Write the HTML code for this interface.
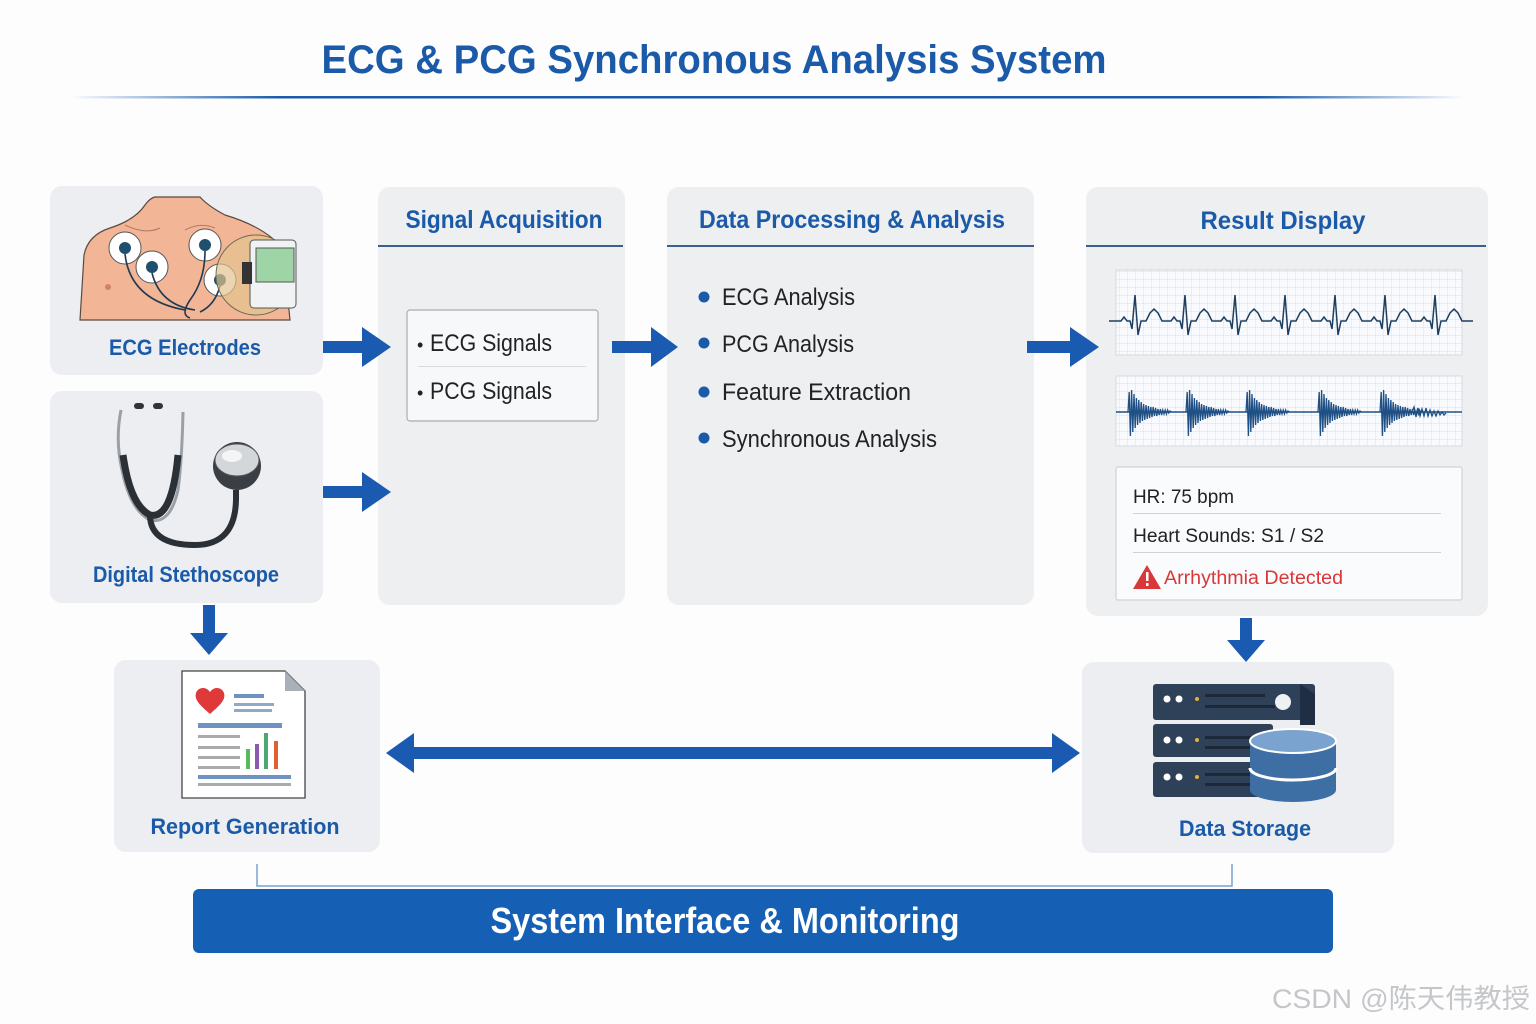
<!DOCTYPE html>
<html><head><meta charset="utf-8"><style>
html,body{margin:0;padding:0;background:#fdfdfe;}
svg{display:block;}
text{font-family:"Liberation Sans","Noto Sans CJK SC",sans-serif;}
</style></head><body>
<svg width="1536" height="1024" viewBox="0 0 1536 1024" xmlns="http://www.w3.org/2000/svg">
<defs>
<linearGradient id="tl" x1="0" x2="1" y1="0" y2="0">
<stop offset="0" stop-color="#1a5aa8" stop-opacity="0"/><stop offset="0.15" stop-color="#1a5aa8"/><stop offset="0.85" stop-color="#1a5aa8"/><stop offset="1" stop-color="#1a5aa8" stop-opacity="0"/></linearGradient>
<pattern id="grid" width="8" height="8" patternUnits="userSpaceOnUse"><path d="M8 0V8H0" fill="none" stroke="#c9d8ea" stroke-width="0.7"/></pattern>
<path id="burst" d="M0 0 L1.2 -20 L2.4 24 L3.6 -22 L4.8 20 L6 -18 L7.2 16 L8.4 -14 L9.6 13 L10.8 -12 L12 11 L13.2 -10 L14.4 9 L15.6 -8 L16.8 8 L18 -7 L19.2 7 L20.4 -6 L21.6 6 L22.8 -5 L24 5 L25.2 -5 L26.4 4 L27.6 -4 L28.8 4 L30 -3 L31.2 3 L32.4 -3 L33.6 3 L34.8 -2 L36 2 L37.2 -2 L38.4 2 L39.6 -2 L40.8 1 L42 -1 L43.2 0" fill="none" stroke="#1e4f85" stroke-width="1.3"/>
</defs>

<!-- title -->
<text x="714" y="73" text-anchor="middle" font-size="40" font-weight="bold" fill="#1a5aa8" textLength="785" lengthAdjust="spacingAndGlyphs">ECG &amp; PCG Synchronous Analysis System</text>
<rect x="70" y="96" width="1395" height="2.5" fill="url(#tl)"/>

<!-- cards -->
<rect x="50" y="186" width="273" height="189" rx="12" fill="#eceef1"/>
<rect x="50" y="391" width="273" height="212" rx="12" fill="#eceef1"/>
<rect x="378" y="187" width="247" height="418" rx="12" fill="#eeeff1"/>
<rect x="667" y="187" width="367" height="418" rx="12" fill="#eeeff1"/>
<rect x="1086" y="187" width="402" height="429" rx="12" fill="#eeeff1"/>
<rect x="114" y="660" width="266" height="192" rx="12" fill="#eceef1"/>
<rect x="1082" y="662" width="312" height="191" rx="12" fill="#eceef1"/>

<!-- ECG electrodes illustration -->
<path d="M80 320 L84 255 Q88 235 110 228 Q135 220 145 205 Q150 198 155 197 L200 197 Q208 206 225 215 Q255 224 272 238 Q282 250 285 270 L290 320 Z" fill="#f2b596" stroke="#5a4a44" stroke-width="1.2"/>
<path d="M125 225 Q145 235 160 228 M185 230 Q200 222 215 228" stroke="#b07a66" fill="none" stroke-width="1"/>
<circle cx="125" cy="248" r="16" fill="#fff" stroke="#555" stroke-width="1"/>
<circle cx="152" cy="267" r="16" fill="#fff" stroke="#555"/>
<circle cx="205" cy="245" r="16" fill="#fff" stroke="#555"/>
<circle cx="220" cy="280" r="16" fill="#fff" stroke="#555"/>
<circle cx="125" cy="248" r="6" fill="#1f4f6e"/><circle cx="152" cy="267" r="6" fill="#1f4f6e"/><circle cx="205" cy="245" r="6" fill="#1f4f6e"/><circle cx="220" cy="280" r="6" fill="#1f4f6e"/>
<path d="M125 254 Q130 300 185 310 M152 273 Q160 305 195 310 M205 251 Q205 280 190 300 Q180 315 190 318 M220 286 Q215 305 200 312" stroke="#1f3a52" stroke-width="1.6" fill="none"/>
<circle cx="256" cy="275" r="40" fill="#e3c38e" fill-opacity="0.7" stroke="#6b6b50" stroke-width="1"/>
<rect x="250" y="240" width="46" height="68" rx="4" fill="#f1f2f3" stroke="#555"/>
<rect x="256" y="248" width="38" height="34" fill="#9fd5a6" stroke="#555"/>
<rect x="242" y="262" width="10" height="22" fill="#333"/>
<circle cx="108" cy="287" r="3" fill="#d08070"/>

<!-- stethoscope -->
<path d="M121 410 Q115 440 122 470 Q130 510 150 520 Q170 525 178 490 Q182 460 183 412" fill="none" stroke="#9aa0a6" stroke-width="3"/>
<path d="M123 455 Q130 505 150 515 Q172 520 178 455" fill="none" stroke="#2b3036" stroke-width="7"/>
<path d="M150 515 Q150 545 195 545 Q235 545 236 500 L236 490" fill="none" stroke="#2b3036" stroke-width="6"/>
<rect x="134" y="403" width="10" height="6" rx="3" fill="#333"/><rect x="153" y="403" width="10" height="6" rx="3" fill="#333"/>
<circle cx="237" cy="466" r="24" fill="#3a3f45"/>
<ellipse cx="237" cy="460" rx="22" ry="16" fill="#d4d7da" stroke="#555"/>
<ellipse cx="232" cy="456" rx="10" ry="6" fill="#f4f5f6"/>

<!-- labels -->
<text x="185" y="355" text-anchor="middle" font-size="22" font-weight="bold" fill="#1a5aa8" textLength="152" lengthAdjust="spacingAndGlyphs">ECG Electrodes</text>
<text x="186" y="582" text-anchor="middle" font-size="22" font-weight="bold" fill="#1a5aa8" textLength="186" lengthAdjust="spacingAndGlyphs">Digital Stethoscope</text>

<!-- Signal Acquisition -->
<text x="504" y="228" text-anchor="middle" font-size="25" font-weight="bold" fill="#1a5aa8" textLength="197" lengthAdjust="spacingAndGlyphs">Signal Acquisition</text>
<rect x="378" y="245" width="245" height="2" fill="#3d5f8c"/>
<rect x="407" y="310" width="191" height="111" rx="3" fill="#f7f8f9" stroke="#a8acb2" stroke-width="1.2"/>
<rect x="418" y="366" width="168" height="1" fill="#d8dadd"/>
<text x="417" y="351" font-size="24" fill="#222"><tspan font-size="18">•</tspan> <tspan textLength="122" lengthAdjust="spacingAndGlyphs">ECG Signals</tspan></text>
<text x="417" y="399" font-size="24" fill="#222"><tspan font-size="18">•</tspan> <tspan textLength="122" lengthAdjust="spacingAndGlyphs">PCG Signals</tspan></text>

<!-- Data processing -->
<text x="852" y="228" text-anchor="middle" font-size="25" font-weight="bold" fill="#1a5aa8" textLength="306" lengthAdjust="spacingAndGlyphs">Data Processing &amp; Analysis</text>
<rect x="667" y="245" width="367" height="2" fill="#3d5f8c"/>
<g font-size="24" fill="#222">
<circle cx="704" cy="297" r="5.5" fill="#1a5aa8"/><text x="722" y="305" textLength="133" lengthAdjust="spacingAndGlyphs">ECG Analysis</text>
<circle cx="704" cy="343" r="5.5" fill="#1a5aa8"/><text x="722" y="352" textLength="132" lengthAdjust="spacingAndGlyphs">PCG Analysis</text>
<circle cx="704" cy="392" r="5.5" fill="#1a5aa8"/><text x="722" y="400" textLength="189" lengthAdjust="spacingAndGlyphs">Feature Extraction</text>
<circle cx="704" cy="438" r="5.5" fill="#1a5aa8"/><text x="722" y="447" textLength="215" lengthAdjust="spacingAndGlyphs">Synchronous Analysis</text>
</g>

<!-- Result display -->
<text x="1283" y="229" text-anchor="middle" font-size="25" font-weight="bold" fill="#1a5aa8" textLength="165" lengthAdjust="spacingAndGlyphs">Result Display</text>
<rect x="1086" y="245" width="400" height="2" fill="#3d5f8c"/>
<rect x="1116" y="270" width="346" height="85" fill="#f8fafd" stroke="#d4d8de"/>
<rect x="1116" y="270" width="346" height="85" fill="url(#grid)"/>
<rect x="1116" y="376" width="346" height="70" fill="#f8fafd" stroke="#d4d8de"/>
<rect x="1116" y="376" width="346" height="70" fill="url(#grid)"/>
<path d="M1109 321 h8 l4 0 l3 -4 l3 4 l3 0 l2 8 l3 -34 l3 40 l3 -14 l5 0 l4 -8 l4 -4 l4 4 l4 8 l5 0 l4 0 l3 -4 l3 4 l3 0 l2 8 l3 -34 l3 40 l3 -14 l5 0 l4 -8 l4 -4 l4 4 l4 8 l5 0 l4 0 l3 -4 l3 4 l3 0 l2 8 l3 -34 l3 40 l3 -14 l5 0 l4 -8 l4 -4 l4 4 l4 8 l5 0 l4 0 l3 -4 l3 4 l3 0 l2 8 l3 -34 l3 40 l3 -14 l5 0 l4 -8 l4 -4 l4 4 l4 8 l5 0 l4 0 l3 -4 l3 4 l3 0 l2 8 l3 -34 l3 40 l3 -14 l5 0 l4 -8 l4 -4 l4 4 l4 8 l5 0 l4 0 l3 -4 l3 4 l3 0 l2 8 l3 -34 l3 40 l3 -14 l5 0 l4 -8 l4 -4 l4 4 l4 8 l5 0 l4 0 l3 -4 l3 4 l3 0 l2 8 l3 -34 l3 40 l3 -14 l5 0 l4 -8 l4 -4 l4 4 l4 8 l5 0 h6" fill="none" stroke="#1f3f60" stroke-width="1.5"/>
<path d="M1116 412 H1462" stroke="#1e4f85" stroke-width="1.4"/>
<use href="#burst" x="1128" y="412"/>
<use href="#burst" x="1186" y="412"/>
<use href="#burst" x="1246" y="412"/>
<use href="#burst" x="1318" y="412"/>
<use href="#burst" x="1380" y="412"/>
<path d="M1412 412 l2 -5 l2 10 l2 -9 l2 8 l2 -7 l2 7 l2 -8 l2 8 l2 -6 l2 6 l2 -5 l2 5 l2 -5 l2 4 l2 -3 l2 3 l2 -2" fill="none" stroke="#1e4f85" stroke-width="1.3"/>

<rect x="1116" y="467" width="346" height="133" rx="2" fill="#fafbfc" stroke="#cfd3d8" stroke-width="1.2"/>
<rect x="1133" y="513" width="308" height="1" fill="#cfd3d8"/>
<rect x="1133" y="552" width="308" height="1" fill="#cfd3d8"/>
<text x="1133" y="503" font-size="19" fill="#222" textLength="101" lengthAdjust="spacingAndGlyphs">HR: 75 bpm</text>
<text x="1133" y="542" font-size="19" fill="#222" textLength="191" lengthAdjust="spacingAndGlyphs">Heart Sounds: S1 / S2</text>
<path d="M1147 565 L1161 589 L1133 589 Z" fill="#d9383a"/>
<rect x="1146" y="572" width="2.5" height="9" fill="#fff"/><rect x="1146" y="583" width="2.5" height="3" fill="#fff"/>
<text x="1164" y="584" font-size="19" fill="#d9383a" textLength="179" lengthAdjust="spacingAndGlyphs">Arrhythmia Detected</text>

<!-- arrows -->
<g fill="#1a5ab0">
<path d="M323 341 H362 V327 L391 347 L362 367 V353 H323 Z"/>
<path d="M323 486 H362 V472 L391 492 L362 512 V498 H323 Z"/>
<path d="M612 341 H651 V327 L678 347 L651 367 V353 H612 Z"/>
<path d="M1027 341 H1070 V327 L1099 347 L1070 367 V353 H1027 Z"/>
<path d="M203 605 V633 H190 L209 655 L228 633 H215 V605 Z"/>
<path d="M1240 618 V640 H1227 L1246 662 L1265 640 H1252 V618 Z"/>
<path d="M386 753 L414 733 V747 H1052 V733 L1080 753 L1052 773 V759 H414 V773 Z"/>
</g>

<!-- report doc -->
<path d="M182 671 H285 L305 691 V798 H182 Z" fill="#fff" stroke="#444" stroke-width="1.3"/>
<path d="M285 671 V691 H305 Z" fill="#aab0b8"/>
<path d="M210 714 C200 705 194 700 196 693 C198 687 206 686 210 692 C214 686 222 687 224 693 C226 700 220 705 210 714 Z" fill="#e0393a"/>
<rect x="234" y="694" width="30" height="4" fill="#6e93c0"/><rect x="234" y="703" width="40" height="3" fill="#8fa9c8"/><rect x="234" y="709" width="38" height="3" fill="#8fa9c8"/>
<rect x="198" y="723" width="84" height="5" fill="#6e93c0"/>
<rect x="198" y="735" width="42" height="3" fill="#aaa"/><rect x="198" y="746" width="42" height="3" fill="#aaa"/><rect x="198" y="756" width="42" height="3" fill="#aaa"/><rect x="198" y="766" width="42" height="3" fill="#aaa"/>
<rect x="246" y="749" width="4" height="20" fill="#5cb85c"/><rect x="255" y="744" width="4" height="25" fill="#8a5ab0"/><rect x="264" y="733" width="4" height="36" fill="#4aa870"/><rect x="274" y="741" width="4" height="28" fill="#e06030"/>
<rect x="198" y="775" width="93" height="4" fill="#6e93c0"/><rect x="198" y="783" width="93" height="3" fill="#aaa"/>
<text x="245" y="834" text-anchor="middle" font-size="22" font-weight="bold" fill="#1a5aa8" textLength="189" lengthAdjust="spacingAndGlyphs">Report Generation</text>

<!-- server -->
<g>
<rect x="1153" y="684" width="162" height="36" rx="3" fill="#2f4159"/>
<path d="M1300 684 L1315 694 V725 H1300 Z" fill="#1f2e42"/>
<rect x="1153" y="724" width="120" height="33" rx="3" fill="#2f4159"/>
<rect x="1153" y="762" width="120" height="35" rx="3" fill="#2f4159"/>
<circle cx="1167" cy="699" r="3.5" fill="#fff"/><circle cx="1179" cy="699" r="3.5" fill="#fff"/><circle cx="1197" cy="699" r="2" fill="#e0b040"/>
<rect x="1205" y="694" width="60" height="3" fill="#1c2838"/><rect x="1205" y="705" width="70" height="3" fill="#1c2838"/>
<circle cx="1283" cy="702" r="8" fill="#eef1f4"/>
<circle cx="1167" cy="740" r="3.5" fill="#fff"/><circle cx="1179" cy="740" r="3.5" fill="#fff"/><circle cx="1197" cy="740" r="2" fill="#e0b040"/>
<rect x="1205" y="736" width="50" height="3" fill="#1c2838"/><rect x="1205" y="746" width="55" height="3" fill="#1c2838"/>
<circle cx="1167" cy="777" r="3.5" fill="#fff"/><circle cx="1179" cy="777" r="3.5" fill="#fff"/><circle cx="1197" cy="777" r="2" fill="#e0b040"/>
<rect x="1205" y="773" width="50" height="3" fill="#1c2838"/><rect x="1205" y="783" width="55" height="3" fill="#1c2838"/>
<path d="M1250 741 V790 A43 12 0 0 0 1336 790 V741 Z" fill="#3e6fa4"/>
<ellipse cx="1293" cy="741" rx="43" ry="12" fill="#7aa3cf" stroke="#fff" stroke-width="2"/>
<path d="M1250 768 A43 12 0 0 0 1336 768" fill="none" stroke="#fff" stroke-width="3"/>
</g>
<text x="1245" y="836" text-anchor="middle" font-size="22" font-weight="bold" fill="#1a5aa8" textLength="132" lengthAdjust="spacingAndGlyphs">Data Storage</text>

<!-- connector -->
<path d="M257 864 V886 H1232 V864" fill="none" stroke="#7aa0d0" stroke-width="1.5"/>

<!-- bottom bar -->
<rect x="193" y="889" width="1140" height="64" rx="6" fill="#1560b5"/>
<text x="725" y="933" text-anchor="middle" font-size="36" font-weight="bold" fill="#fff" textLength="469" lengthAdjust="spacingAndGlyphs">System Interface &amp; Monitoring</text>

<text x="1272" y="1008" font-size="27" fill="#c4c6c9" textLength="258" lengthAdjust="spacingAndGlyphs">CSDN @陈天伟教授</text>
</svg>
</body></html>
